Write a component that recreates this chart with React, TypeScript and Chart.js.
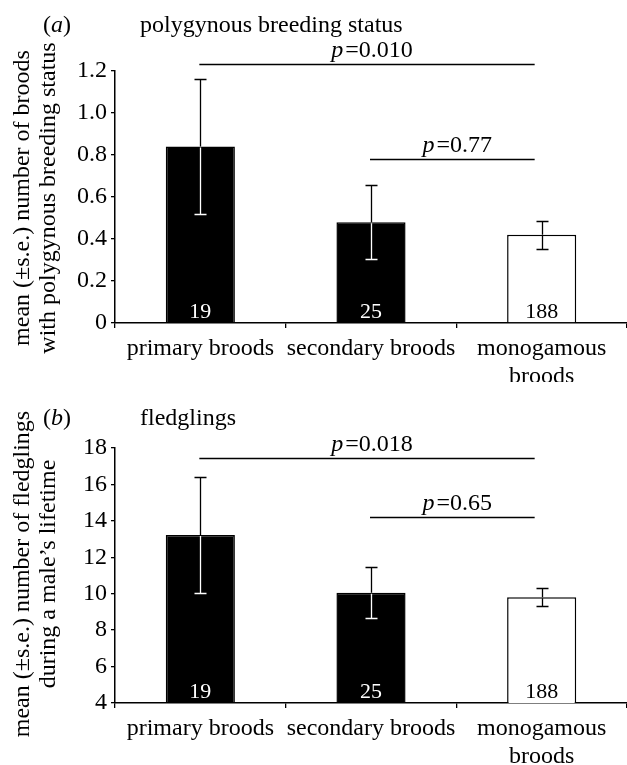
import React, { useEffect, useRef } from "react";
import { Chart, registerables } from "chart.js";

Chart.register(...registerables);

const FONT = '"Liberation Serif", "Times New Roman", serif';

const categories = [["primary broods"], ["secondary broods"], ["monogamous", "broods"]];
const sampleSizes = [19, 25, 188];
const barFills = ["#000000", "#000000", "#ffffff"];

const broodsMean = [0.84, 0.48, 0.42];
const broodsSE = [0.32, 0.175, 0.067];
const broodsTicks = [0, 1.2, 0.2]; // min, max, step

const fledgMean = [13.22, 10.05, 9.8];
const fledgSE = [3.17, 1.41, 0.5];
const fledgTicks = [4, 18, 2];

const broodsTests = [
  { from: 0, to: 2, p: "0.010", level: 1.232 },
  { from: 1, to: 2, p: "0.77", level: 0.782 },
];
const fledgTests = [
  { from: 0, to: 2, p: "0.018", level: 17.43 },
  { from: 1, to: 2, p: "0.65", level: 14.2 },
];

type Panel = {
  letter: string;
  title: string;
  yTitle: string[];
  means: number[];
  se: number[];
  ticks: number[];
  tests: { from: number; to: number; p: string; level: number }[];
  decimals: boolean;
  height: number;
  padTop: number;
  xAxisH: number;
  titleBase: number;
  yTitleCenter: number;
};

const panels: Panel[] = [
  {
    letter: "a",
    title: "polygynous breeding status",
    yTitle: ["mean (±s.e.) number of broods", "with polygynous breeding status"],
    means: broodsMean,
    se: broodsSE,
    ticks: broodsTicks,
    tests: broodsTests,
    decimals: true,
    height: 382,
    padTop: 71,
    xAxisH: 59,
    titleBase: 32,
    yTitleCenter: 198,
  },
  {
    letter: "b",
    title: "fledglings",
    yTitle: ["mean (±s.e.) number of fledglings", "during a male’s lifetime"],
    means: fledgMean,
    se: fledgSE,
    ticks: fledgTicks,
    tests: fledgTests,
    decimals: false,
    height: 383,
    padTop: 66,
    xAxisH: 62,
    titleBase: 43,
    yTitleCenter: 192,
  },
];

function makeOverlay(panel: Panel) {
  return {
    id: "overlay" + panel.letter,
    afterDatasetsDraw(chart: any) {
      const { ctx } = chart;
      const x = chart.scales.x;
      const y = chart.scales.y;
      ctx.save();
      // error bars
      panel.means.forEach((m, i) => {
        const cx = Math.round(x.getPixelForValue(i)) + 0.5;
        const yM = y.getPixelForValue(m);
        const yH = Math.round(y.getPixelForValue(m + panel.se[i])) + 0.5;
        const yL = Math.round(y.getPixelForValue(m - panel.se[i])) + 0.5;
        const inner = barFills[i] === "#000000" ? "#ffffff" : "#000000";
        ctx.lineWidth = 1.3;
        ctx.strokeStyle = "#000";
        ctx.beginPath();
        ctx.moveTo(cx, yM);
        ctx.lineTo(cx, yH);
        ctx.moveTo(cx - 6, yH);
        ctx.lineTo(cx + 6, yH);
        ctx.stroke();
        ctx.strokeStyle = inner;
        ctx.beginPath();
        ctx.moveTo(cx, yM + 1);
        ctx.lineTo(cx, yL);
        ctx.moveTo(cx - 6, yL);
        ctx.lineTo(cx + 6, yL);
        ctx.stroke();
      });
      // sample sizes
      const base = y.getPixelForValue(panel.ticks[0]);
      ctx.font = `22px ${FONT}`;
      ctx.textAlign = "center";
      ctx.textBaseline = "alphabetic";
      sampleSizes.forEach((n, i) => {
        ctx.fillStyle = barFills[i] === "#000000" ? "#ffffff" : "#000000";
        ctx.fillText(String(n), x.getPixelForValue(i), base - 5);
      });
      // significance lines
      panel.tests.forEach((t) => {
        const x1 = x.getPixelForValue(t.from) - 1;
        const x2 = x.getPixelForValue(t.to) - 7;
        const ly = Math.round(y.getPixelForValue(t.level)) + 0.5;
        ctx.strokeStyle = "#000";
        ctx.lineWidth = 1.3;
        ctx.beginPath();
        ctx.moveTo(x1, ly);
        ctx.lineTo(x2, ly);
        ctx.stroke();
        ctx.fillStyle = "#000";
        const rest = "=" + t.p;
        ctx.font = `italic 24px ${FONT}`;
        const wp = ctx.measureText("p").width;
        ctx.font = `24px ${FONT}`;
        const wr = ctx.measureText(rest).width;
        const gap = 2;
        const total = wp + gap + wr;
        const cxm = (x1 + x2) / 2 + 5;
        const sx = cxm - total / 2;
        ctx.textAlign = "left";
        ctx.font = `italic 24px ${FONT}`;
        ctx.fillText("p", sx, ly - 7.5);
        ctx.font = `24px ${FONT}`;
        ctx.fillText(rest, sx + wp + gap, ly - 7.5);
      });
      // panel letter and title
      ctx.textAlign = "left";
      ctx.font = `24px ${FONT}`;
      let px = 43;
      ctx.fillText("(", px, panel.titleBase);
      px += ctx.measureText("(").width;
      ctx.font = `italic 24px ${FONT}`;
      ctx.fillText(panel.letter, px, panel.titleBase);
      px += ctx.measureText(panel.letter).width;
      ctx.font = `24px ${FONT}`;
      ctx.fillText(")", px, panel.titleBase);
      ctx.fillText(panel.title, 140, panel.titleBase);
      // y title
      ctx.save();
      ctx.translate(0, panel.yTitleCenter);
      ctx.rotate(-Math.PI / 2);
      ctx.textAlign = "center";
      ctx.textBaseline = "middle";
      ctx.fillText(panel.yTitle[0], 0, 23);
      ctx.fillText(panel.yTitle[1], 0, 49);
      ctx.restore();
      ctx.restore();
    },
  };
}

function PanelChart({ panel, top }: { panel: Panel; top: number }) {
  const ref = useRef<HTMLCanvasElement | null>(null);
  useEffect(() => {
    if (!ref.current) return;
    const [ymin, ymax, ystep] = panel.ticks;
    const chart = new Chart(ref.current, {
      type: "bar",
      data: {
        labels: categories as any,
        datasets: [
          {
            data: panel.means,
            backgroundColor: barFills,
            borderColor: "#000",
            borderWidth: 1.5,
            barPercentage: 0.405,
            categoryPercentage: 1,
          },
        ],
      },
      options: {
        animation: false,
        responsive: false,
        devicePixelRatio: 1,
        layout: { padding: { top: panel.padTop, right: -6, left: 0, bottom: 0 } },
        plugins: { legend: { display: false }, tooltip: { enabled: false } },
        scales: {
          x: {
            offset: true,
            grid: { offset: true, drawOnChartArea: false, drawTicks: true, tickLength: 5, color: "#000", lineWidth: 1.3 },
            border: { color: "#000", width: 1.5 },
            ticks: {
              color: "#000",
              font: { family: FONT, size: 24, lineHeight: 1.2 },
              padding: 6,
              maxRotation: 0,
              autoSkip: false,
            },
            afterFit: (s: any) => {
              s.height = panel.xAxisH;
            },
          },
          y: {
            min: ymin,
            max: ymax,
            grid: { drawOnChartArea: false, drawTicks: true, tickLength: 4, color: "#000", lineWidth: 1.3 },
            border: { color: "#000", width: 1.5 },
            ticks: {
              stepSize: ystep,
              color: "#000",
              padding: 4,
              font: { family: FONT, size: 24 },
              callback: (v: any) => {
                const n = Number(v);
                if (!panel.decimals) return String(Math.round(n));
                return Math.abs(n) < 1e-9 ? "0" : n.toFixed(1);
              },
            },
            afterFit: (s: any) => {
              s.width = 115;
            },
          },
        },
      },
      plugins: [makeOverlay(panel)],
    });
    return () => chart.destroy();
  }, [panel]);
  return (
    <canvas
      ref={ref}
      width={627}
      height={panel.height}
      style={{ position: "absolute", left: 0, top, width: 627, height: panel.height }}
    />
  );
}

export default function App() {
  return (
    <div style={{ position: "fixed", left: 0, top: 0, width: 627, height: 765, background: "#fff" }}>
      <PanelChart panel={panels[0]} top={0} />
      <PanelChart panel={panels[1]} top={382} />
    </div>
  );
}
